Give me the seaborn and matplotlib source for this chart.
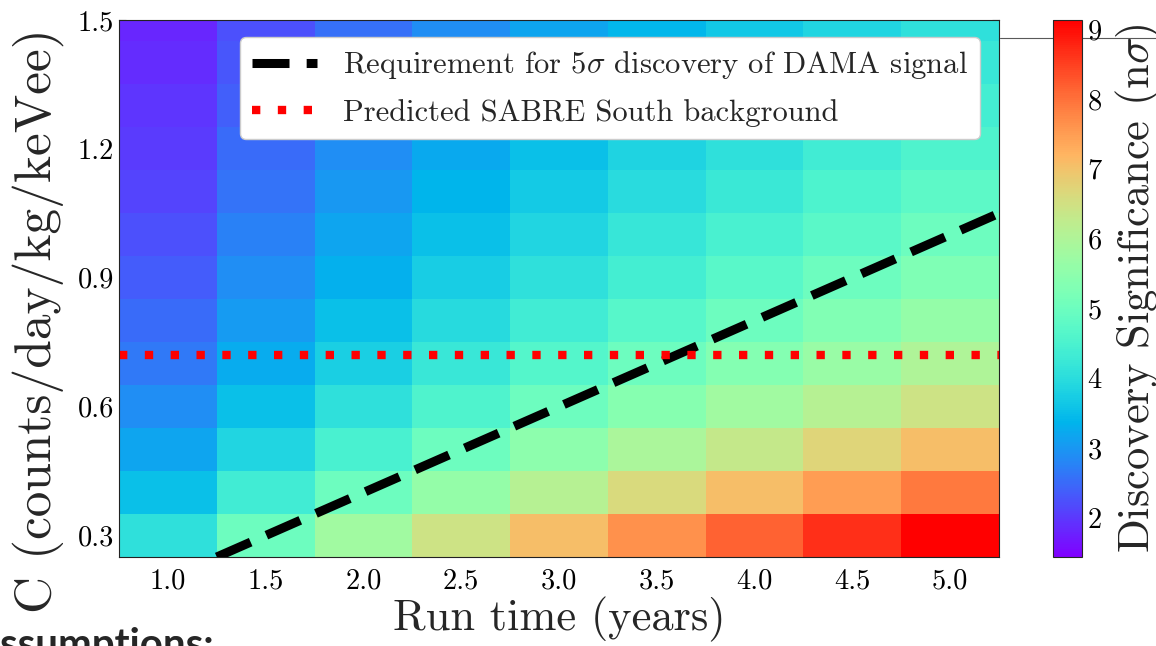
import numpy as np
import pandas as pd
import matplotlib
matplotlib.use("Agg")
import matplotlib.pyplot as plt
from matplotlib.lines import Line2D
import seaborn as sns

# run time of the heatmap columns (years)
run_time = [1.0, 1.5, 2.0, 2.5, 3.0, 3.5, 4.0, 4.5, 5.0]
# background rate C of the heatmap rows, top to bottom (counts/day/kg/keVee)
bkg_rate = [1.5, 1.4, 1.3, 1.2, 1.1, 1.0, 0.9, 0.8, 0.7, 0.6, 0.5, 0.4, 0.3]

# discovery significance (n sigma), one list per background row
sig_c15 = [1.83, 2.24, 2.58, 2.89, 3.16, 3.42, 3.65, 3.87, 4.08]
sig_c14 = [1.89, 2.31, 2.67, 2.99, 3.27, 3.54, 3.78, 4.01, 4.23]
sig_c13 = [1.96, 2.40, 2.77, 3.10, 3.40, 3.67, 3.92, 4.16, 4.39]
sig_c12 = [2.04, 2.50, 2.89, 3.23, 3.54, 3.82, 4.08, 4.33, 4.56]
sig_c11 = [2.13, 2.61, 3.02, 3.37, 3.69, 3.99, 4.26, 4.52, 4.77]
sig_c10 = [2.24, 2.74, 3.16, 3.54, 3.87, 4.18, 4.47, 4.74, 5.00]
sig_c09 = [2.36, 2.89, 3.33, 3.73, 4.08, 4.41, 4.71, 5.00, 5.27]
sig_c08 = [2.50, 3.06, 3.54, 3.95, 4.33, 4.68, 5.00, 5.30, 5.59]
sig_c07 = [2.67, 3.27, 3.78, 4.23, 4.63, 5.00, 5.35, 5.67, 5.98]
sig_c06 = [2.89, 3.54, 4.08, 4.56, 5.00, 5.40, 5.77, 6.12, 6.45]
sig_c05 = [3.16, 3.87, 4.47, 5.00, 5.48, 5.92, 6.32, 6.71, 7.07]
sig_c04 = [3.54, 4.33, 5.00, 5.59, 6.12, 6.61, 7.07, 7.50, 7.91]
sig_c03 = [4.08, 5.00, 5.77, 6.45, 7.07, 7.64, 8.16, 8.66, 9.13]

# 5 sigma requirement line and predicted SABRE South background
req_time = [1.25, 5.25]
req_bkg = [0.25, 1.05]
sabre_time = [0.75, 5.25]
sabre_bkg = [0.72, 0.72]

x_ticks = [1.0, 1.5, 2.0, 2.5, 3.0, 3.5, 4.0, 4.5, 5.0]
y_ticks = [0.3, 0.6, 0.9, 1.2, 1.5]
cbar_ticks = [2, 3, 4, 5, 6, 7, 8, 9]

sig = pd.DataFrame(
    [sig_c15, sig_c14, sig_c13, sig_c12, sig_c11, sig_c10, sig_c09,
     sig_c08, sig_c07, sig_c06, sig_c05, sig_c04, sig_c03],
    index=bkg_rate, columns=run_time)


# heatmap cells live in index space: convert data values to cell coordinates
def to_col(t):
    return (np.asarray(t, dtype=float) - 0.75) / 0.5


def to_row(c):
    return (1.55 - np.asarray(c, dtype=float)) / 0.1


sns.set_style("ticks")
plt.rcParams["font.family"] = "serif"
plt.rcParams["font.serif"] = ["cmr10", "DejaVu Serif"]
plt.rcParams["mathtext.fontset"] = "cm"
plt.rcParams["axes.unicode_minus"] = False
plt.rcParams["axes.formatter.use_mathtext"] = True

W, H = 1156, 646
fig = plt.figure(figsize=(W / 100, H / 100), dpi=100)
ax = fig.add_axes([119 / W, 1 - 557 / H, 880 / W, 537 / H])
cax = fig.add_axes([1053 / W, 1 - 557 / H, 29 / W, 537 / H])

sns.heatmap(sig, cmap="rainbow", vmin=1.44, vmax=9.13, ax=ax, cbar_ax=cax,
            xticklabels=False, yticklabels=False)
ax.set_xlim(0, len(run_time))
ax.set_ylim(to_row(0.25), to_row(1.5))

ax.plot(to_col(req_time), to_row(req_bkg), color="black", lw=6.5,
        dashes=(4.1, 1.9), label=r"Requirement for 5$\sigma$ discovery of DAMA signal")
ax.plot(to_col(sabre_time), to_row(sabre_bkg), color="red", lw=6,
        dashes=(1, 2.1), label="Predicted SABRE South background")

for sp in ax.spines.values():
    sp.set_visible(True)
    sp.set_linewidth(0.8)
    sp.set_color("#222222")

ax.set_xticks(to_col(x_ticks))
ax.set_xticklabels([f"{v:.1f}" for v in x_ticks])
ax.set_xticks(to_col(np.arange(0.8, 5.25, 0.1)), minor=True)
ax.set_yticks(to_row(y_ticks))
ax.set_yticklabels([f"{v:.1f}" for v in y_ticks])
ax.set_yticks(to_row(0.3 + 0.075 * np.arange(17)), minor=True)
ax.tick_params(which="both", direction="in", top=True, right=True,
               labelsize=20.5, colors="black")
ax.tick_params(which="major", length=5, width=0.8)
ax.tick_params(which="minor", length=3, width=0.6)
ax.tick_params(axis="x", pad=8)

ax.set_xlabel("Run time (years)", fontsize=32, labelpad=2)
ax.set_ylabel("C (counts/day/kg/keVee)", fontsize=37)
ax.yaxis.set_label_coords(-0.062, 0.44)

ax.legend(loc="upper right", bbox_to_anchor=(0.978, 0.968), borderaxespad=0,
          fontsize=22, framealpha=1, edgecolor="0.8", fancybox=True,
          handlelength=2.1, handletextpad=0.85, borderpad=0.4, labelspacing=0.58)

cb = ax.collections[0].colorbar
cb.outline.set_linewidth(0.8)
cb.set_ticks(cbar_ticks)
cb.ax.set_yticks(np.arange(1.6, 9.1, 0.2), minor=True)
cax.tick_params(which="both", direction="in", right=True, left=False,
                labelsize=20.5, colors="black")
cax.tick_params(which="major", length=5, width=0.8)
cax.tick_params(which="minor", length=3, width=0.6)
cb.set_label(r"Discovery Significance (n$\sigma$)", fontsize=32, labelpad=8)

# thin slide rule line behind the colourbar
fig.add_artist(Line2D([1000 / W, 1.0], [1 - 38 / H, 1 - 38 / H],
                      transform=fig.transFigure, color="0.35", lw=0.8, zorder=-1))
fig.text(-0.024, -0.017, "Assumptions:", fontsize=29, family="Lato",
         weight="bold", va="baseline", ha="left")

fig.savefig("out.png", dpi=100)
